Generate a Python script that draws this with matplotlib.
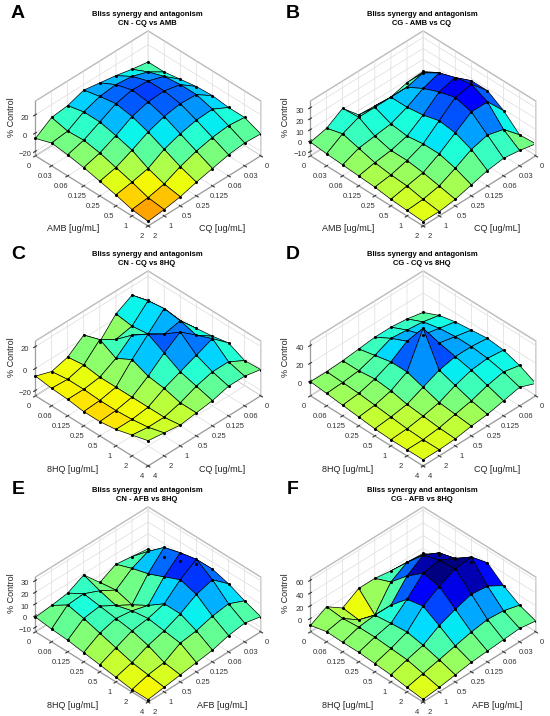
import numpy as np
import matplotlib
matplotlib.use("Agg")
import matplotlib.pyplot as plt

plt.rcParams['font.family'] = ['Liberation Sans', 'DejaVu Sans']

conc_amb = ['0', '0.03', '0.06', '0.125', '0.25', '0.5', '1', '2']
conc_cq = ['0', '0.03', '0.06', '0.125', '0.25', '0.5', '1', '2']
conc_cq4 = ['0', '0.06', '0.125', '0.25', '0.5', '1', '2', '4']
conc_8hq = ['0', '0.06', '0.125', '0.25', '0.5', '1', '2', '4']
conc_afb = ['0', '0.03', '0.06', '0.125', '0.25', '0.5', '1', '2']

# rows: drug on the left axis, columns: drug on the right axis
bliss_a = [[1, 4, 8, 11, 14, 8, 6, -6],
           [1, 12, 18, 20, 18, 12, 2, 0],
           [4, 18, 24, 25, 21, 12, 3, -2],
           [7, 20, 24, 23, 18, 8, 0, -5],
           [8, 20, 21, 18, 12, 3, -5, -9],
           [6, 15, 14, 10, 4, -6, -10, -13],
           [6, 8, 6, 2, -4, -12, -16, -18],
           [-1, 0, -2, -6, -10, -15, -18, -20]]
bliss_b = [[-1, -2, -6, -5, -4, 11, 2, -1.5],
           [7, 16, 12, 12, 12, 12, 6, -3],
           [10, 25, 20, 12, 6, 4, 2, -4],
           [18, 30, 26, 14, 4, 0, -2, -5],
           [18, 33, 30, 18, 6, 0, -4, -6],
           [9, 26, 26, 16, 6, -2, -5, -8],
           [-4, 10, 14, 10, 2, -5, -8, -9],
           [-3, 0, 2, 0, -4, -8, -10, -10]]
bliss_c = [[-2, 12, 4, -12, 3, -8, -12, -7],
           [-1, 16, 2, -1, 8, -6, -10, -9],
           [-2, 18, 4, 12, 0, -8, -10, -10],
           [0, 16, 13, 22, 8, -8, -11, -12],
           [2, 12, 24, 14, 2, -8, -11, -12],
           [5, 18, 12, 6, 0, -8, -10, -10],
           [-2, 6, 6, 2, -4, -8, -8, -6],
           [-1, 2, 2, -2, -4, -6, -4, -2]]
bliss_d = [[-2, 2, 4, 4, 2, 0, -1, -1],
           [6, 10, 12, 14, 6, 0, -2, -3],
           [10, 14, 18, 22, 10, 2, -3, -5],
           [12, 16, 20, 48, 10, 0, -5, -7],
           [14, 16, 16, 12, 4, -4, -7, -9],
           [12, 14, 12, 6, -2, -6, -9, -10],
           [6, 10, 6, 0, -4, -8, -10, -10],
           [-3, 4, 0, -4, -6, -9, -10, -10]]
bliss_e = [[-3, -1, 1, -6, 9, 2, 0, -1.4],
           [-1, 12, 6, -4, 4, 10, 9, -3],
           [4, 24, 10, -8, 0, 8, 6, -4],
           [10, 28, 16, 0, 4, 6, 2, -6],
           [14, 31, 22, 10, 6, 4, -2, -8],
           [10, 22, 18, 10, 4, 0, -6, -10],
           [4, 10, 8, 4, 2, -6, -8, -12],
           [-1, 2, 0, -4, -6, -8, -10, -12]]
bliss_f = [[-8, -6, -4, 0, 0, -15, 2.6, -11],
           [5, 21, 25, 10, -26, -18, 0, -5],
           [15, 40, 52, 35, 5, 5, 2, -6],
           [25, 47, 60, 55, 30, 8, 2, -6],
           [40, 65, 62, 50, 35, 10, 0, -8],
           [20, 35, 38, 30, 20, 5, -2, -10],
           [5, 12, 14, 10, 4, -2, -8, -14],
           [-4, 0, -2, -4, -6, -10, -14, -17]]

panels = [
    ('A', 'CN - CQ vs AMB', 'AMB', conc_amb, 'CQ', conc_cq, bliss_a, (-25, 35), [-20, 0, 20], 38),
    ('B', 'CG - AMB vs CQ', 'AMB', conc_amb, 'CQ', conc_cq, bliss_b, (-14, 36), [-10, 0, 10, 20, 30], 38),
    ('C', 'CN - CQ vs 8HQ', '8HQ', conc_8hq, 'CQ', conc_cq4, bliss_c, (-25, 25), [-20, 0, 20], 32),
    ('D', 'CG - CQ vs 8HQ', '8HQ', conc_8hq, 'CQ', conc_cq4, bliss_d, (-17, 45), [0, 20, 40], 40),
    ('E', 'CN - AFB vs 8HQ', '8HQ', conc_8hq, 'AFB', conc_afb, bliss_e, (-14, 33), [-10, 0, 10, 20, 30], 36),
    ('F', 'CG - AFB vs 8HQ', '8HQ', conc_8hq, 'AFB', conc_afb, bliss_f, (-21, 65), [0, 20, 40, 60], 55),
]
row_top = [0, 240, 476]

fig = plt.figure(figsize=(5.5, 7.16), dpi=100)
W, H = 550, 716

for k, (letter, sub, left_drug, left_ticks, right_drug, right_ticks, data, zlim, zticks, cl) in enumerate(panels):
    x0 = (k % 2) * 275
    y0 = row_top[k // 2]
    ax = fig.add_axes([(x0 + 1) / W, 1 - (y0 + 246) / H, 288 / W, 229 / H], projection='3d')
    z = np.array(data, dtype=float)
    n_i, n_j = z.shape
    X, Y = np.meshgrid(np.arange(n_j), np.arange(n_i))
    ax.plot_surface(X, Y, z, cmap='jet_r', vmin=-cl, vmax=cl, rstride=1, cstride=1,
                    edgecolor='k', linewidth=0.5, antialiased=True, shade=False)
    ax.scatter(X.ravel(), Y.ravel(), z.ravel(), c='k', s=1.5, depthshade=False)
    ax.set_proj_type('ortho')
    ax.view_init(elev=38.5, azim=45)
    ax.set_box_aspect((1, 1, 0.44))
    ax.set_xlim(0, 7)
    ax.set_ylim(0, 7)
    ax.set_zlim(*zlim)
    ax.set_xticks(range(8))
    ax.set_xticklabels(right_ticks)
    ax.set_yticks(range(8))
    ax.set_yticklabels(left_ticks)
    ax.set_zticks(zticks)
    ax.tick_params(labelsize=5.5, pad=-3, colors='#333333')
    ax.tick_params(axis='z', pad=-4)
    for axis in (ax.xaxis, ax.yaxis, ax.zaxis):
        axis.set_pane_color((1, 1, 1, 1))
        axis.pane.set_edgecolor('#bbbbbb')
        axis._axinfo['grid']['color'] = '#dddddd'
        axis._axinfo['grid']['linewidth'] = 0.5
        axis.line.set_color('#888888')
        axis.line.set_linewidth(0.5)

    fig.text((x0 + 18) / W, 1 - (y0 + 14) / H, letter, fontsize=14, fontweight='bold',
             ha='center', va='center')
    fig.text((x0 + 147) / W, 1 - (y0 + 19) / H, 'Bliss synergy and antagonism\n' + sub,
             fontsize=5.5, fontweight='bold', ha='center', va='center', linespacing=1.4)
    fig.text((x0 + 73) / W, 1 - (y0 + 229) / H, left_drug + ' [ug/mL]', fontsize=6.5,
             ha='center', va='center', color='#222222')
    fig.text((x0 + 222) / W, 1 - (y0 + 229) / H, right_drug + ' [ug/mL]', fontsize=6.5,
             ha='center', va='center', color='#222222')
    fig.text((x0 + 11) / W, 1 - (y0 + 117) / H, '% Control', fontsize=6.5, rotation=90,
             ha='center', va='center', color='#222222')

fig.savefig('out.png', dpi=100)
